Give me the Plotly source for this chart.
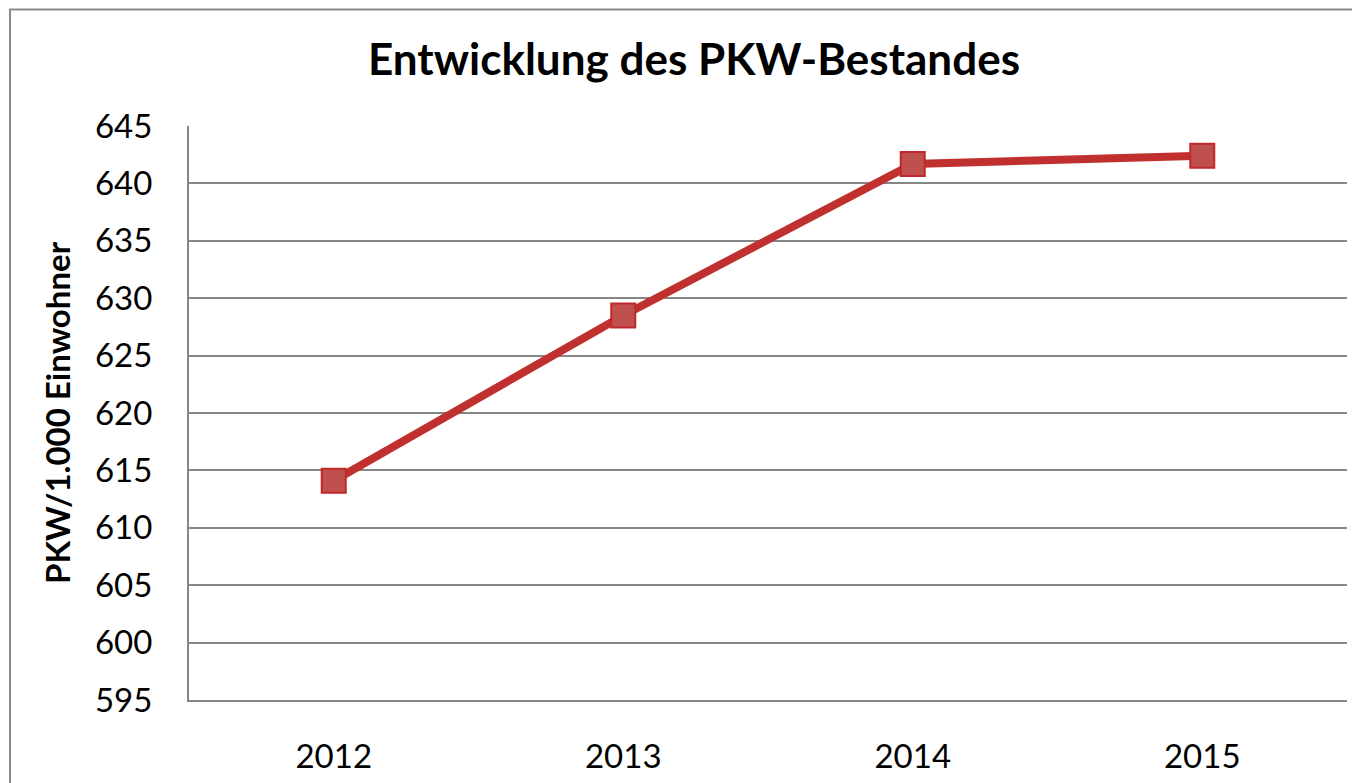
import plotly.graph_objects as go

years = ["2012", "2013", "2014", "2015"]
pkw_per_1000 = [614.1, 628.5, 641.7, 642.4]

# page body has an 8px margin, so the figure starts at (8, 8)
OFF = 8
W, H = 1344, 775
L, R, T, B = 181, 5, 118, 83
pw, ph = W - L - R, H - T - B

fig = go.Figure()
fig.add_trace(
    go.Scatter(
        x=years,
        y=pkw_per_1000,
        mode="lines+markers",
        line=dict(color="#C0302E", width=8),
        marker=dict(
            symbol="square",
            size=24,
            color="#C0504D",
            line=dict(color="#C0282A", width=2),
        ),
        showlegend=False,
    )
)

# outer chart frame (Excel style), top edge kept just inside the figure
fig.add_shape(
    type="rect",
    xref="paper",
    yref="paper",
    x0=(10 - OFF - L) / pw,
    x1=1.1,
    y0=-0.3,
    y1=1 + (T - 1.5) / ph,
    line=dict(color="#8A8A8A", width=2),
    layer="below",
)

fig.update_layout(
    width=W,
    height=H,
    margin=dict(l=L, r=R, t=T, b=B),
    paper_bgcolor="white",
    plot_bgcolor="white",
    font=dict(family="Lato, Open Sans, sans-serif", color="black"),
    title=dict(
        text="<b>Entwicklung des PKW-Bestandes</b>",
        x=(694 - OFF) / W,
        xanchor="center",
        y=1 - (60 - OFF) / H,
        yanchor="middle",
        font=dict(size=44, color="black"),
    ),
    xaxis=dict(
        type="category",
        range=[-0.5, 3.5],
        showgrid=False,
        showline=True,
        linecolor="#868686",
        linewidth=2,
        ticks="",
        ticklabelstandoff=26,
        tickfont=dict(size=33),
        fixedrange=True,
    ),
    yaxis=dict(
        range=[595, 645],
        dtick=5,
        showgrid=True,
        gridcolor="#868686",
        gridwidth=2,
        showline=True,
        linecolor="#868686",
        linewidth=2,
        zeroline=False,
        ticks="",
        ticklabelstandoff=28,
        tickfont=dict(size=33),
        title=dict(
            text="<b>PKW/1.000 Einwohner</b>",
            font=dict(size=33),
            standoff=14,
        ),
    ),
)

fig.write_html("out.html")
